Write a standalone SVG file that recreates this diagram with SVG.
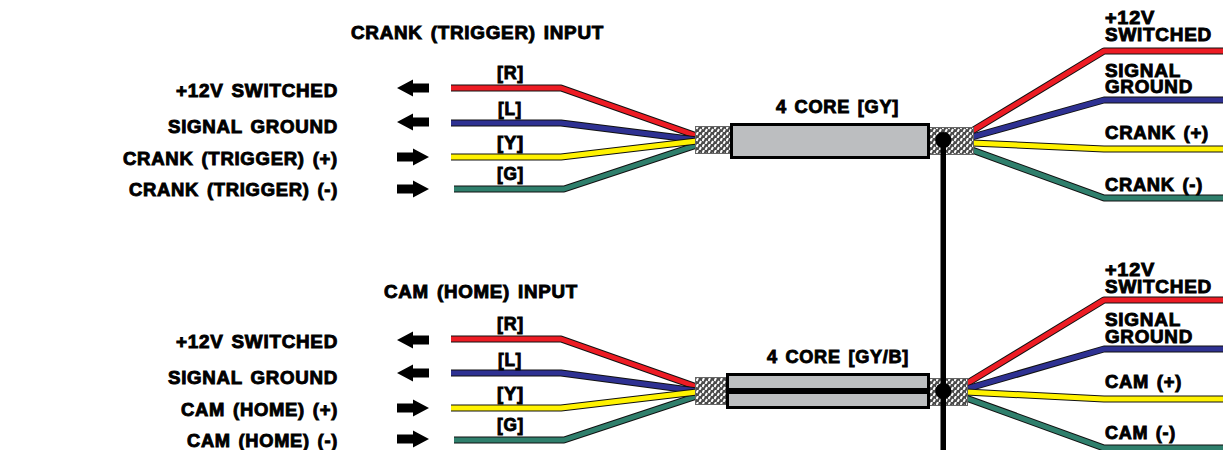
<svg xmlns="http://www.w3.org/2000/svg" width="1223" height="450" viewBox="0 0 1223 450">
<style>
text{font-family:"Liberation Sans",Arial,sans-serif;font-weight:700;font-size:18px;fill:#000;stroke:#000;stroke-width:.9px;letter-spacing:.7px;word-spacing:2px}
.o{fill:none;stroke:#111;stroke-width:7;stroke-linejoin:bevel}
.w{fill:none;stroke-width:5;stroke-linejoin:bevel}
.r{stroke:#ed1c24}.b{stroke:#2e3192}.y{stroke:#fff200}.g{stroke:#2f7f6c}
.j{fill:#bcbec0;stroke:#000;stroke-width:3}
.m{fill:url(#mesh);stroke:#666;stroke-width:1}
.d{fill:#000}
</style>
<defs>
<pattern id="mesh" width="6" height="6" patternUnits="userSpaceOnUse">
<rect width="6" height="6" fill="#4a4a4a"/>
<path d="M0.500 3L2 0M3.500 6L5 3" stroke="#fff" stroke-width="2" fill="none"/>
</pattern>
<path id="al" d="M397 0L413 -8.500V-4.500H429V4.500H413V8.500Z"/>
<path id="ar" d="M429 0L413 -8.500V-4.500H397V4.500H413V8.500Z"/>
</defs>
<g id="connectors">
<g id="wires-crank-left">
<polyline class="o" points="451,88 561,88 697,136"/><polyline class="w r" points="451,88 561,88 697,136"/>
<polyline class="o" points="451,123 561,123 697,140"/><polyline class="w b" points="451,123 561,123 697,140"/>
<polyline class="o" points="454,189 564,189 697,145"/><polyline class="w g" points="454,189 564,189 697,145"/>
<polyline class="o" points="451,157 561,157 697,141"/><polyline class="w y" points="451,157 561,157 697,141"/>
</g>
<g id="wires-crank-right">
<polyline class="o" points="972,131 1104,51 1223,51"/><polyline class="w r" points="972,131 1104,51 1223,51"/>
<polyline class="o" points="972,137 1104,100 1223,100"/><polyline class="w b" points="972,137 1104,100 1223,100"/>
<polyline class="o" points="972,143 1104,149 1223,149"/><polyline class="w y" points="972,143 1104,149 1223,149"/>
<polyline class="o" points="972,150 1104,198 1223,198"/><polyline class="w g" points="972,150 1104,198 1223,198"/>
</g>
<g id="wires-cam-left">
<polyline class="o" points="451,339 561,339 697,387"/><polyline class="w r" points="451,339 561,339 697,387"/>
<polyline class="o" points="451,373 561,373 697,391"/><polyline class="w b" points="451,373 561,373 697,391"/>
<polyline class="o" points="454,440 564,440 697,396"/><polyline class="w g" points="454,440 564,440 697,396"/>
<polyline class="o" points="451,408 561,408 697,392"/><polyline class="w y" points="451,408 561,408 697,392"/>
</g>
<g id="wires-cam-right">
<polyline class="o" points="966,384 1104,300 1223,300"/><polyline class="w r" points="966,384 1104,300 1223,300"/>
<polyline class="o" points="966,389 1104,349 1223,349"/><polyline class="w b" points="966,389 1104,349 1223,349"/>
<polyline class="o" points="966,392 1104,399 1223,399"/><polyline class="w y" points="966,392 1104,399 1223,399"/>
<polyline class="o" points="966,398 1104,448 1223,448"/><polyline class="w g" points="966,398 1104,448 1223,448"/>
</g>
</g>
<g id="arrows">
<use href="#al" y="88"/><use href="#al" y="122"/><use href="#ar" y="157"/><use href="#ar" y="189"/>
<use href="#al" y="340"/><use href="#al" y="373"/><use href="#ar" y="408"/><use href="#ar" y="439"/>
</g>
<g id="cable-crank">
<rect class="m" x="695.500" y="126.500" width="36" height="27"/>
<rect class="m" x="928.500" y="127.500" width="45" height="27"/>
<rect class="j" x="731.500" y="124.500" width="197" height="33"/>
</g>
<g id="cable-cam">
<rect class="m" x="695.500" y="377.500" width="32" height="27"/>
<rect class="m" x="928.500" y="378.500" width="39" height="27"/>
<rect class="j" x="727.500" y="374.500" width="201" height="33"/>
<rect class="d" x="727" y="388" width="202" height="6"/>
</g>
<g id="shield-link">
<rect class="d" x="940.500" y="139" width="5.500" height="311"/>
<circle class="d" cx="943.300" cy="140" r="8"/>
<circle class="d" cx="943.300" cy="391" r="8"/>
</g>
<g id="labels-crank">
<text x="351" y="38.500" textLength="253" lengthAdjust="spacingAndGlyphs">CRANK (TRIGGER) INPUT</text>
<text x="176" y="97" textLength="162" lengthAdjust="spacingAndGlyphs">+12V SWITCHED</text>
<text x="168" y="133" textLength="170" lengthAdjust="spacingAndGlyphs">SIGNAL GROUND</text>
<text x="123" y="165" textLength="215" lengthAdjust="spacingAndGlyphs">CRANK (TRIGGER) (+)</text>
<text x="129" y="196" textLength="209" lengthAdjust="spacingAndGlyphs">CRANK (TRIGGER) (-)</text>
<text x="497" y="79" textLength="27" lengthAdjust="spacingAndGlyphs">[R]</text>
<text x="498" y="115" textLength="24" lengthAdjust="spacingAndGlyphs">[L]</text>
<text x="497" y="149" textLength="27" lengthAdjust="spacingAndGlyphs">[Y]</text>
<text x="497" y="180" textLength="27" lengthAdjust="spacingAndGlyphs">[G]</text>
<text x="776" y="112.500" textLength="123" lengthAdjust="spacingAndGlyphs">4 CORE [GY]</text>
<text x="1105" y="24" textLength="50" lengthAdjust="spacingAndGlyphs">+12V</text>
<text x="1105" y="41" textLength="107" lengthAdjust="spacingAndGlyphs">SWITCHED</text>
<text x="1105" y="77" textLength="76" lengthAdjust="spacingAndGlyphs">SIGNAL</text>
<text x="1105" y="93" textLength="88" lengthAdjust="spacingAndGlyphs">GROUND</text>
<text x="1105" y="138.500" textLength="104" lengthAdjust="spacingAndGlyphs">CRANK (+)</text>
<text x="1105" y="190.500" textLength="98" lengthAdjust="spacingAndGlyphs">CRANK (-)</text>
</g>
<g id="labels-cam">
<text x="384" y="297.500" textLength="194" lengthAdjust="spacingAndGlyphs">CAM (HOME) INPUT</text>
<text x="176" y="348" textLength="162" lengthAdjust="spacingAndGlyphs">+12V SWITCHED</text>
<text x="168" y="384" textLength="170" lengthAdjust="spacingAndGlyphs">SIGNAL GROUND</text>
<text x="181" y="416" textLength="157" lengthAdjust="spacingAndGlyphs">CAM (HOME) (+)</text>
<text x="187" y="447" textLength="151" lengthAdjust="spacingAndGlyphs">CAM (HOME) (-)</text>
<text x="497" y="330" textLength="27" lengthAdjust="spacingAndGlyphs">[R]</text>
<text x="498" y="366" textLength="24" lengthAdjust="spacingAndGlyphs">[L]</text>
<text x="497" y="400" textLength="27" lengthAdjust="spacingAndGlyphs">[Y]</text>
<text x="497" y="431" textLength="27" lengthAdjust="spacingAndGlyphs">[G]</text>
<text x="767" y="362.500" textLength="142" lengthAdjust="spacingAndGlyphs">4 CORE [GY/B]</text>
<text x="1105" y="276" textLength="50" lengthAdjust="spacingAndGlyphs">+12V</text>
<text x="1105" y="293" textLength="107" lengthAdjust="spacingAndGlyphs">SWITCHED</text>
<text x="1105" y="326" textLength="76" lengthAdjust="spacingAndGlyphs">SIGNAL</text>
<text x="1105" y="343" textLength="88" lengthAdjust="spacingAndGlyphs">GROUND</text>
<text x="1105" y="388" textLength="77" lengthAdjust="spacingAndGlyphs">CAM (+)</text>
<text x="1105" y="439" textLength="71" lengthAdjust="spacingAndGlyphs">CAM (-)</text>
</g>
</svg>
